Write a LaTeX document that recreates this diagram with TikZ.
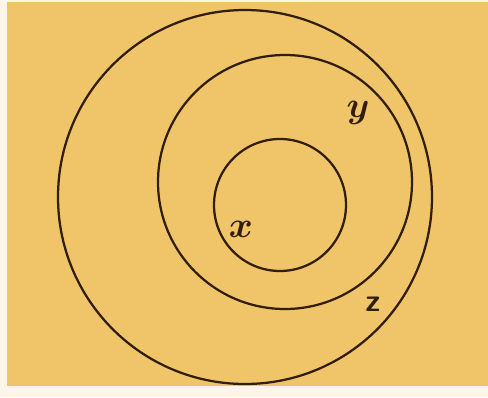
\documentclass[tikz,border=0pt]{standalone}
\definecolor{paper}{RGB}{240,196,104}
\definecolor{ink}{RGB}{50,30,12}
\begin{document}
\begin{tikzpicture}[x=0.2mm,y=-0.2mm,line width=0.45mm]
  \useasboundingbox (0,0) rectangle (488,397);
  \fill[white!85!paper] (0,0) rectangle (488,397);
  \fill[paper] (7,2) rectangle (488,386);
  \draw[ink] (245,197) circle (187);
  \draw[ink] (285,182) circle (127);
  \draw[ink] (280,205) circle (66);
  \node[ink,font=\fontsize{22}{24}\selectfont\boldmath] (lx) at (241,229) {$x$};
  \node[ink,font=\fontsize{22}{24}\selectfont\boldmath] (ly) at (358,113) {$y$};
  \node[ink,font=\fontsize{18}{20}\selectfont\sffamily\bfseries] (lz) at (373,304) {z};
\end{tikzpicture}
\end{document}
